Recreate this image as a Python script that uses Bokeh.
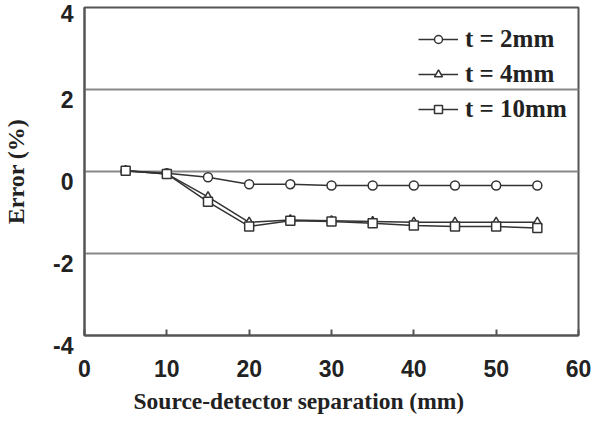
from bokeh.plotting import figure
from bokeh.models import Legend, LegendItem, FixedTicker, Range1d, Title
from bokeh.embed import file_html
from bokeh.resources import INLINE

# Data
separation = [5, 10, 15, 20, 25, 30, 35, 40, 45, 50, 55]
err_t2 = [0.02, -0.04, -0.14, -0.31, -0.31, -0.34, -0.34, -0.34, -0.34, -0.34, -0.34]
err_t4 = [0.02, -0.06, -0.62, -1.24, -1.18, -1.20, -1.22, -1.24, -1.24, -1.24, -1.24]
err_t10 = [0.02, -0.06, -0.74, -1.34, -1.20, -1.22, -1.26, -1.32, -1.34, -1.34, -1.38]
series_labels = ["t = 2mm", "t = 4mm", "t = 10mm"]
x_ticks = [0, 10, 20, 30, 40, 50, 60]
y_ticks = [-4, -2, 0, 2, 4]
x_title = "Source-detector separation (mm)"
y_title = "Error (%)"

p = figure(width=600, height=421, output_backend="svg", toolbar_location=None,
           x_range=Range1d(0, 60), y_range=Range1d(-4, 4),
           min_border_left=84, min_border_right=22, min_border_top=7, min_border_bottom=86)
p.background_fill_color = "white"
p.border_fill_color = "white"
p.outline_line_color = "#555555"
p.outline_line_width = 2

# axes
p.xaxis.ticker = FixedTicker(ticks=x_ticks)
p.yaxis.ticker = FixedTicker(ticks=y_ticks)
p.yaxis.axis_label = y_title
for ax in (p.xaxis, p.yaxis):
    ax.axis_line_color = "#555555"
    ax.axis_line_width = 2
    ax.major_tick_line_color = "#555555"
    ax.major_tick_line_width = 2
    ax.minor_tick_line_color = None
    ax.major_tick_out = 0
    ax.major_label_text_font = "Liberation Sans"
    ax.major_label_text_font_style = "bold"
    ax.major_label_text_font_size = "23px"
    ax.major_label_text_color = "#222222"
    ax.axis_label_text_font = "Liberation Serif"
    ax.axis_label_text_font_style = "bold"
    ax.axis_label_text_font_size = "24px"
    ax.axis_label_text_color = "#222222"
p.xaxis.major_tick_in = 6
p.yaxis.major_tick_in = 0
p.xaxis.major_label_standoff = 24
p.yaxis.major_label_standoff = 11
# y tick labels sit slightly below their gridlines, as in the original
p.yaxis.major_label_overrides = {v: ("" if v == max(y_ticks) else "\n") + str(v) for v in y_ticks}
p.yaxis.major_label_text_line_height = 0.8
p.yaxis.axis_label_standoff = 21

# x axis title, placed left of centre as in the original
p.add_layout(Title(text=x_title, align="left", offset=49, standoff=12,
                   text_font="Liberation Serif", text_font_style="bold",
                   text_font_size="23.5px", text_color="#222222"), "below")

p.xgrid.grid_line_color = None
p.ygrid.grid_line_color = "#888888"
p.ygrid.grid_line_width = 2

col = "#333333"
items = []
for ys, marker, lab in zip([err_t2, err_t4, err_t10], ["circle", "triangle", "square"], series_labels):
    l = p.line(separation, ys, line_color=col, line_width=1.5)
    s = p.scatter(separation, ys, marker=marker, size=9, line_color=col, line_width=1.5,
                  fill_color="white")
    items.append(LegendItem(label=lab, renderers=[l, s]))

legend = Legend(items=items, location=(334, 212))
legend.border_line_color = None
legend.background_fill_alpha = 0
legend.label_text_font = "Liberation Serif"
legend.label_text_font_style = "bold"
legend.label_text_font_size = "25px"
legend.label_text_color = "#222222"
legend.glyph_width = 40
legend.label_standoff = 7
legend.spacing = 7
legend.padding = 0
legend.margin = 0
p.add_layout(legend)

open("out.html", "w").write(file_html(p, INLINE))
